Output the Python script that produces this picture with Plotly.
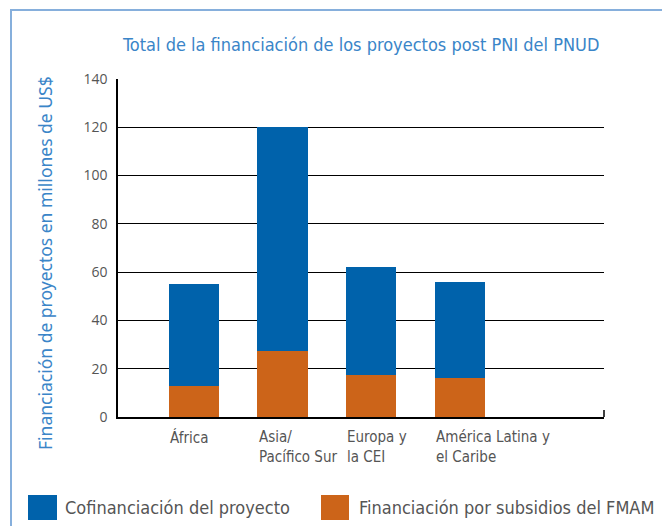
import plotly.graph_objects as go

# ---- data ----
regions = ["África", "Asia/Pacífico Sur", "Europa y la CEI", "América Latina y el Caribe"]
region_labels = ["África", "Asia/<br>Pacífico Sur", "Europa y<br>la CEI", "América Latina y<br>el Caribe"]
fmam = [13.0, 27.5, 17.4, 16.3]          # Financiación por subsidios del FMAM
cofin = [42.2, 92.8, 44.7, 39.7]         # Cofinanciación del proyecto
series_names = ["Cofinanciación del proyecto", "Financiación por subsidios del FMAM"]
y_ticks = [0, 20, 40, 60, 80, 100, 120, 140]

title_text = "Total de la financiación de los proyectos post PNI del PNUD"
y_title = "Financiación de proyectos en millones de US$"

BLUE = "#0062ab"
ORANGE = "#cc6419"
TITLE_BLUE = "#3a85c8"
GRAY = "#555555"
NARROW = "DejaVu Sans Condensed, sans-serif"

fig = go.Figure()
fig.add_trace(go.Bar(x=regions, y=fmam, name=series_names[1], marker=dict(color=ORANGE, line=dict(width=0)),
                     showlegend=False))
fig.add_trace(go.Bar(x=regions, y=cofin, name=series_names[0], marker=dict(color=BLUE, line=dict(width=0)),
                     showlegend=False))

# plot area: x 118..604 px, y 79..417 px
L, R, T, B = 118, 604, 79, 417
W, H = R - L, B - T
def px(x):
    return (x - L) / W
def py(y):
    return (B - y) / H

annotations = []
for r, lab in zip(regions, region_labels):
    annotations.append(dict(x=r, y=0, xref="x", yref="y", xshift=-26, yshift=-9,
                            text=lab, showarrow=False, xanchor="left", yanchor="top", align="left",
                            font=dict(family=NARROW, size=15, color=GRAY)))
annotations.append(dict(x=px(360), y=py(44), xref="paper", yref="paper", text=title_text, showarrow=False,
                        xanchor="center", yanchor="middle",
                        font=dict(family=NARROW, size=18, color=TITLE_BLUE)))
annotations.append(dict(x=px(45), y=py(263), xref="paper", yref="paper", text=y_title, showarrow=False,
                        textangle=-90, xanchor="center", yanchor="middle",
                        font=dict(family="Noto Sans, Open Sans, sans-serif", size=17.5, color=TITLE_BLUE)))
annotations.append(dict(x=px(63), y=py(507), xref="paper", yref="paper", text=series_names[0], showarrow=False,
                        xanchor="left", yanchor="middle",
                        font=dict(family=NARROW, size=18, color=GRAY)))
annotations.append(dict(x=px(357), y=py(507), xref="paper", yref="paper", text=series_names[1], showarrow=False,
                        xanchor="left", yanchor="middle",
                        font=dict(family=NARROW, size=18, color=GRAY)))

shapes = [
    dict(type="rect", xref="paper", yref="paper", x0=px(11), x1=px(700), y0=py(560), y1=py(10),
         line=dict(color="#86afdc", width=2), fillcolor="rgba(0,0,0,0)", layer="below"),
    dict(type="rect", xref="paper", yref="paper", x0=px(28), x1=px(57), y0=py(520), y1=py(495),
         line=dict(width=0), fillcolor=BLUE),
    dict(type="rect", xref="paper", yref="paper", x0=px(321), x1=px(349), y0=py(520), y1=py(495),
         line=dict(width=0), fillcolor=ORANGE),
    dict(type="line", xref="paper", yref="paper", x0=1, x1=1, y0=0, y1=py(410),
         line=dict(color="black", width=1.5)),
]

fig.update_layout(
    width=662, height=526,
    margin=dict(l=L, r=662 - R, t=T, b=526 - B),
    paper_bgcolor="white", plot_bgcolor="white",
    barmode="stack", bargap=0.437,
    showlegend=False,
    annotations=annotations,
    shapes=shapes,
    xaxis=dict(type="category", categoryorder="array", categoryarray=regions,
               range=[-0.85, 4.615], showticklabels=False, showgrid=False,
               showline=True, linecolor="black", linewidth=1.5, ticks="", zeroline=False),
    yaxis=dict(range=[0, 140], tickvals=y_ticks, showgrid=True, gridcolor="black", gridwidth=1.2,
               showline=True, linecolor="black", linewidth=1.5, zeroline=False, ticks="",
               ticklabelstandoff=6,
               tickfont=dict(family="Open Sans, sans-serif", size=14, color=GRAY)),
)

fig.write_html("out.html", config={"displayModeBar": False},
               post_script="document.body.style.margin='0';document.body.style.padding='0';document.body.style.overflow='hidden';")
